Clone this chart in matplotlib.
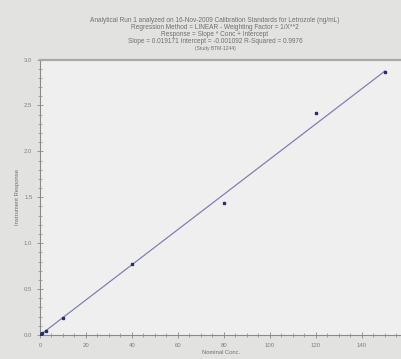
import matplotlib.pyplot as plt
import numpy as np

# calibration standards (nominal conc, instrument response)
conc = [0.5, 1.0, 2.5, 10, 40, 80, 120, 150]
response = [0.009, 0.019, 0.046, 0.18, 0.775, 1.44, 2.42, 2.86]
slope = 0.019171
intercept = -0.001092
fit_x = [0, 150]

title_lines = [
    "Analytical Run 1 analyzed on 16-Nov-2009 Calibration Standards for Letrozole (ng/mL)",
    "Regression Method = LINEAR - Weighting Factor = 1/X**2",
    "Response = Slope * Conc + Intercept",
    "Slope = 0.019171 Intercept = -0.001092 R-Squared = 0.9976",
]
study = "(Study BTM-1244)"

plt.rcParams['font.family'] = ['Liberation Sans', 'DejaVu Sans']

fig = plt.figure(figsize=(4.02, 3.59), dpi=100, facecolor='#e2e2e0')
# lighter panel behind the chart
bg = fig.add_axes([8 / 402, 0, 1, 1 - 10 / 359], zorder=-1)
bg.set_facecolor('#efefef')
bg.axis('off')
bg.patch.set_visible(True)

ax = fig.add_axes([40 / 402, 24 / 359, 362 / 402, 275.5 / 359])
ax.set_facecolor('#efefef')

fx = np.array(fit_x)
ax.plot(fx, slope * fx + intercept, color='#8080b4', lw=0.9, zorder=2)
ax.plot(conc, response, 's', color='#2a2e70', ms=1.5, zorder=3)

ax.set_xlim(0, 157.4)
ax.set_ylim(0, 3.0)
ax.set_xticks(range(0, 160, 20))
ax.set_xticks(range(0, 158, 5), minor=True)
ax.set_yticks([0, 0.5, 1.0, 1.5, 2.0, 2.5, 3.0])
ax.set_yticklabels(['0.0', '0.5', '1.0', '1.5', '2.0', '2.5', '3.0'])
ax.set_yticks(np.arange(0, 3.01, 0.1), minor=True)

ax.spines['right'].set_visible(False)
ax.spines['top'].set_color('#a8a8a8')
ax.spines['top'].set_linewidth(1.6)
for s in ['left', 'bottom']:
    ax.spines[s].set_color('#8a8a8a')
    ax.spines[s].set_linewidth(0.8)

ax.tick_params(which='major', direction='inout', length=5, width=0.6, color='#8a8a8a',
               labelsize=4.3, labelcolor='#808080', pad=3)
ax.tick_params(which='minor', direction='inout', length=3, width=0.5, color='#8a8a8a')

ax.set_xlabel('Nominal Conc.', fontsize=4.2, color='#707070', labelpad=2)
ax.set_ylabel('Instrument Response', fontsize=4.2, color='#707070', labelpad=3)

y0 = 1 - 20 / 359
for i, line in enumerate(title_lines):
    fig.text(215 / 402, y0 - i * 7.3 / 359, line, ha='center', va='center',
             fontsize=4.7, color='#707070')
fig.text(215 / 402, y0 - 4 * 7.3 / 359 + 1 / 359, study, ha='center', va='center',
         fontsize=3.6, color='#707070')

fig.savefig('out.png', dpi=100, facecolor=fig.get_facecolor())
